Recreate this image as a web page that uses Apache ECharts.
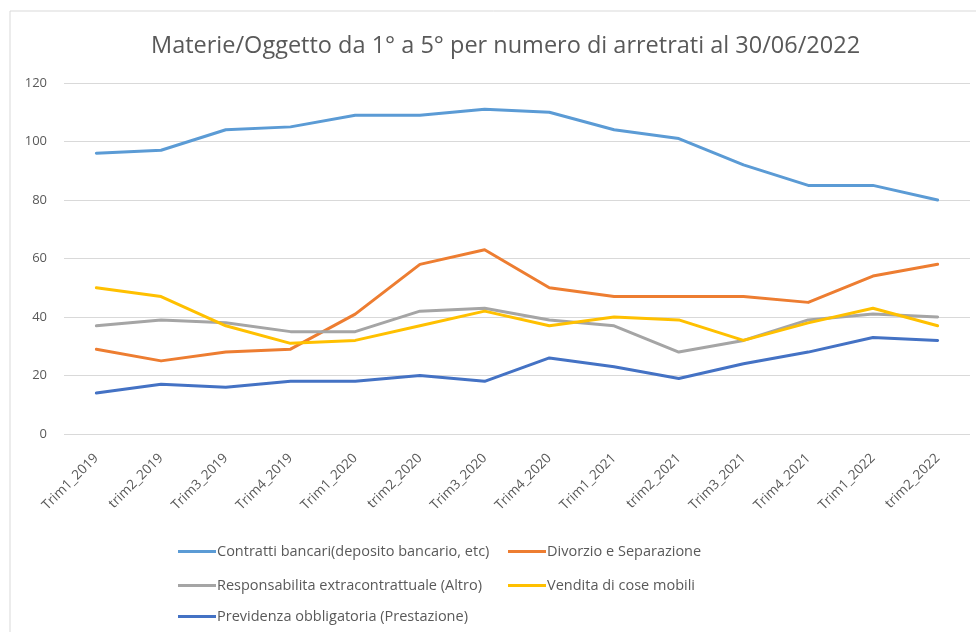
<!DOCTYPE html>
<html>
<head>
    <meta charset="utf-8">
    <title>Materie/Oggetto da 1° a 5°</title>
    <script src="https://cdn.jsdelivr.net/npm/echarts@6/dist/echarts.min.js"></script>
</head>
<body style="margin:0">
<div id="main" style="width: 976px;height:632px;"></div>
<script type="text/javascript">
    // trimestri
    var trimestri = ['Trim1_2019', 'trim2_2019', 'Trim3_2019', 'Trim4_2019', 'Trim1_2020', 'trim2_2020', 'Trim3_2020',
        'Trim4_2020', 'Trim1_2021', 'trim2_2021', 'Trim3_2021', 'Trim4_2021', 'Trim1_2022', 'trim2_2022'];

    var contratti = [96, 97, 104, 105, 109, 109, 111, 110, 104, 101, 92, 85, 85, 80];
    var divorzio = [29, 25, 28, 29, 41, 58, 63, 50, 47, 47, 47, 45, 54, 58];
    var responsabilita = [37, 39, 38, 35, 35, 42, 43, 39, 37, 28, 32, 39, 41, 40];
    var vendita = [50, 47, 37, 31, 32, 37, 42, 37, 40, 39, 32, 38, 43, 37];
    var previdenza = [14, 17, 16, 18, 18, 20, 18, 26, 23, 19, 24, 28, 33, 32];

    var nomi = ['Contratti bancari(deposito bancario, etc)', 'Divorzio e Separazione',
        'Responsabilita extracontrattuale (Altro)', 'Vendita di cose mobili',
        'Previdenza obbligatoria (Prestazione)'];
    var colori = ['#5b9bd5', '#ed7d31', '#a5a5a5', '#ffc000', '#4472c4'];
    var valori = [contratti, divorzio, responsabilita, vendita, previdenza];

    var font = 'Open Sans';
    var myChart = echarts.init(document.getElementById('main'));

    // una legenda per voce, disposte a tabella come in Excel
    var posLegenda = [[173, 539], [503, 539], [173, 573], [503, 573], [173, 604]];

    function legenda(i) {
        return {
            left: posLegenda[i][0],
            top: posLegenda[i][1],
            data: [nomi[i]],
            icon: 'rect',
            itemWidth: 38,
            itemHeight: 3,
            textStyle: {color: '#595959', fontSize: 14.5, fontFamily: font, padding: [0, 0, 0, -4]}
        };
    }

    myChart.setOption({
        animation: false,
        color: colori,
        title: {
            text: 'Materie/Oggetto da 1° a 5° per numero di arretrati al 30/06/2022',
            left: 146,
            top: 29,
            textStyle: {color: '#595959', fontSize: 23.5, fontWeight: 'normal', fontFamily: font}
        },
        graphic: [{
            type: 'rect',
            shape: {x: 10, y: 11, width: 990, height: 660},
            style: {fill: 'none', stroke: '#d9d9d9', lineWidth: 1},
            silent: true
        }],
        legend: nomi.map(function (n, i) { return legenda(i); }),
        grid: {left: 64, right: 6, top: 83, bottom: 198},
        xAxis: {
            type: 'category',
            data: trimestri,
            boundaryGap: true,
            axisLine: {show: false},
            axisTick: {show: false},
            axisLabel: {rotate: 45, color: '#595959', fontSize: 13.5, fontFamily: font, margin: 22, interval: 0}
        },
        yAxis: {
            type: 'value',
            min: 0,
            max: 120,
            interval: 20,
            axisLabel: {color: '#595959', fontSize: 13, fontFamily: font, margin: 17},
            splitLine: {lineStyle: {color: '#d9d9d9', width: 1}}
        },
        series: valori.map(function (v, i) {
            return {
                name: nomi[i],
                type: 'line',
                data: v,
                showSymbol: false,
                symbol: 'none',
                lineStyle: {width: 3, color: colori[i], cap: 'round', join: 'round'},
                itemStyle: {color: colori[i]}
            };
        })
    });
</script>
</body>
</html>
